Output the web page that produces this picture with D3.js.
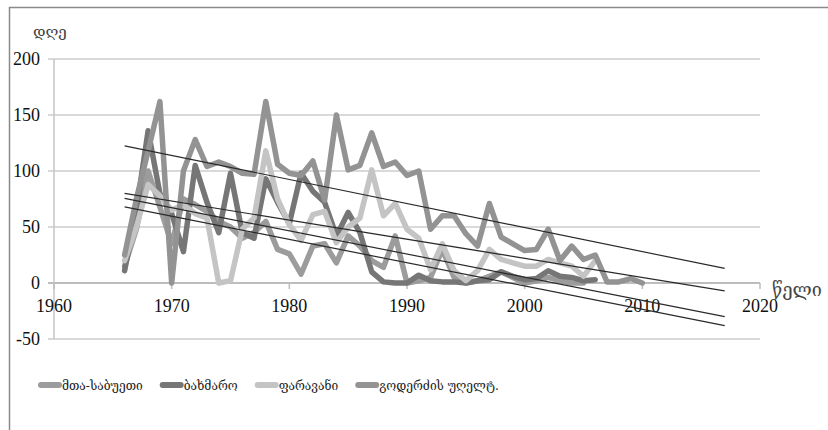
<!DOCTYPE html>
<html>
<head>
<meta charset="utf-8">
<script src="https://cdn.jsdelivr.net/npm/d3@7"></script>
<style>
  body { margin: 0; background: #fff; }
  svg { display: block; }
</style>
</head>
<body>
<div id="chart"></div>
<script>
// data (days per year)
var years = [1966, 1967, 1968, 1969, 1970, 1971, 1972, 1973, 1974, 1975,
             1976, 1977, 1978, 1979, 1980, 1981, 1982, 1983, 1984, 1985,
             1986, 1987, 1988, 1989, 1990, 1991, 1992, 1993, 1994, 1995,
             1996, 1997, 1998, 1999, 2000, 2001, 2002, 2003, 2004, 2005,
             2006, 2007, 2008, 2009, 2010];

var mtaSabueti = [15, 48, 100, 68, 35, 75, 70, 64, 55, 50,
                  40, 45, 55, 30, 26, 8, 33, 35, 18, 42,
                  33, 20, 14, 42, 0, 2, 5, 30, 5, 0,
                  2, 6, 10, 5, 0, 2, 5, 2, 0, 0,
                  null, null, null, null, null];
var bakhmaro = [11, 65, 136, 80, 62, 28, 105, 72, 45, 98,
                45, 40, 93, 72, 53, 98, 82, 72, 42, 63,
                45, 10, 1, 0, 0, 7, 2, 1, 1, 0,
                2, 3, 10, 6, 3, 4, 11, 6, 5, 2,
                3, null, null, null, null];
var paravani = [20, 50, 88, 78, 65, 70, 62, 58, 0, 2,
                48, 58, 118, 75, 52, 38, 61, 64, 36, 50,
                58, 101, 60, 71, 48, 40, 12, 35, 11, 2,
                11, 30, 21, 18, 15, 15, 21, 18, 15, 6,
                20, null, null, null, null];
var goderdzi = [25, 75, 118, 162, 0, 100, 128, 104, 108, 104,
                98, 97, 162, 106, 98, 96, 109, 74, 150, 101,
                105, 134, 104, 108, 96, 100, 48, 60, 60, 44,
                33, 71, 41, 35, 29, 30, 48, 20, 33, 21,
                25, 1, 1, 4, 0];

// linear trend lines (value at 1966 and at 2017)
var trendYears = [1966, 2017];
var trendMta = [68, -38];
var trendBakhmaro = [75.5, -30];
var trendParavani = [80, -7];
var trendGoderdzi = [122.5, 13];

var seriesNames = ["მთა-საბუეთი", "ბახმარო", "ფარავანი", "გოდერძის უღელტ."];
var seriesColors = ["#9c9c9c", "#767676", "#c4c4c4", "#939393"];

var xTicks = [1960, 1970, 1980, 1990, 2000, 2010, 2020];
var yTicks = [-50, 0, 50, 100, 150, 200];

var series = [
  {name: seriesNames[0], color: seriesColors[0], values: mtaSabueti, trend: trendMta},
  {name: seriesNames[1], color: seriesColors[1], values: bakhmaro, trend: trendBakhmaro},
  {name: seriesNames[2], color: seriesColors[2], values: paravani, trend: trendParavani},
  {name: seriesNames[3], color: seriesColors[3], values: goderdzi, trend: trendGoderdzi}
];

var W = 828, H = 430;
var serif = "'Liberation Serif', 'DejaVu Serif', serif";
var geo = "'DejaVu Serif', 'DejaVu Sans', serif";

var svg = d3.select("#chart").append("svg")
    .attr("width", W)
    .attr("height", H);

// outer frame
svg.append("rect")
    .attr("x", 9.5).attr("y", 7.5)
    .attr("width", W + 20).attr("height", H + 20)
    .attr("fill", "none")
    .attr("stroke", "#8a8a8a")
    .attr("stroke-width", 1.5);

var x = d3.scaleLinear().domain([1960, 2020]).range([54, 760]);
var y = d3.scaleLinear().domain([-50, 200]).range([339, 59]);

// horizontal grid lines (extend left as ticks)
svg.append("g")
    .selectAll("line")
    .data(yTicks)
    .enter()
    .append("line")
    .attr("x1", 48).attr("x2", x(2020))
    .attr("y1", d => y(d)).attr("y2", d => y(d))
    .attr("stroke", d => d === 0 ? "#bdbdbd" : "#d9d9d9")
    .attr("stroke-width", 2);

// y axis line
svg.append("line")
    .attr("x1", x(1960)).attr("x2", x(1960))
    .attr("y1", y(200)).attr("y2", y(-50))
    .attr("stroke", "#c4c4c4")
    .attr("stroke-width", 1.5);

// x ticks on the zero line
svg.append("g")
    .selectAll("line")
    .data(xTicks)
    .enter()
    .append("line")
    .attr("x1", d => x(d)).attr("x2", d => x(d))
    .attr("y1", y(0)).attr("y2", y(0) + 6)
    .attr("stroke", "#bdbdbd")
    .attr("stroke-width", 1.5);

// y tick labels
svg.append("g")
    .selectAll("text")
    .data(yTicks)
    .enter()
    .append("text")
    .attr("x", 40)
    .attr("y", d => y(d))
    .attr("dy", "0.35em")
    .attr("text-anchor", "end")
    .style("font-family", serif)
    .style("font-size", "18px")
    .attr("fill", "#111")
    .text(d => d);

// x tick labels
svg.append("g")
    .selectAll("text")
    .data(xTicks)
    .enter()
    .append("text")
    .attr("x", d => x(d))
    .attr("y", y(0) + 29)
    .attr("text-anchor", "middle")
    .style("font-family", serif)
    .style("font-size", "18px")
    .attr("fill", "#111")
    .text(d => d);

// axis titles
svg.append("text")
    .attr("x", 33).attr("y", 37)
    .style("font-family", geo)
    .style("font-size", "15px")
    .attr("fill", "#444")
    .text("დღე");

svg.append("text")
    .attr("x", 772).attr("y", 296)
    .style("font-family", geo)
    .style("font-size", "18px")
    .attr("fill", "#444")
    .text("წელი");

// series lines
var line = d3.line()
    .defined(d => d[1] !== null)
    .x(d => x(d[0]))
    .y(d => y(d[1]));

svg.append("g")
    .selectAll("path")
    .data(series)
    .enter()
    .append("path")
    .attr("d", s => line(years.map((yr, i) => [yr, s.values[i]])))
    .attr("fill", "none")
    .attr("stroke", s => s.color)
    .attr("stroke-width", 5.5)
    .attr("stroke-linejoin", "round")
    .attr("stroke-linecap", "round");

// trend lines
svg.append("g")
    .selectAll("line")
    .data(series)
    .enter()
    .append("line")
    .attr("x1", x(trendYears[0])).attr("x2", x(trendYears[1]))
    .attr("y1", s => y(s.trend[0])).attr("y2", s => y(s.trend[1]))
    .attr("stroke", "#2a2a2a")
    .attr("stroke-width", 1.2);

// legend
var legend = svg.append("g");
var lx = 38;
series.forEach(function(s) {
    legend.append("line")
        .attr("x1", lx + 3).attr("x2", lx + 21)
        .attr("y1", 385).attr("y2", 385)
        .attr("stroke", s.color)
        .attr("stroke-width", 6)
        .attr("stroke-linecap", "round");
    var t = legend.append("text")
        .attr("x", lx + 24).attr("y", 390)
        .style("font-family", geo)
        .style("font-size", "12px")
        .attr("fill", "#222")
        .text(s.name);
    lx += 24 + t.node().getComputedTextLength() + 17;
});
</script>
</body>
</html>
